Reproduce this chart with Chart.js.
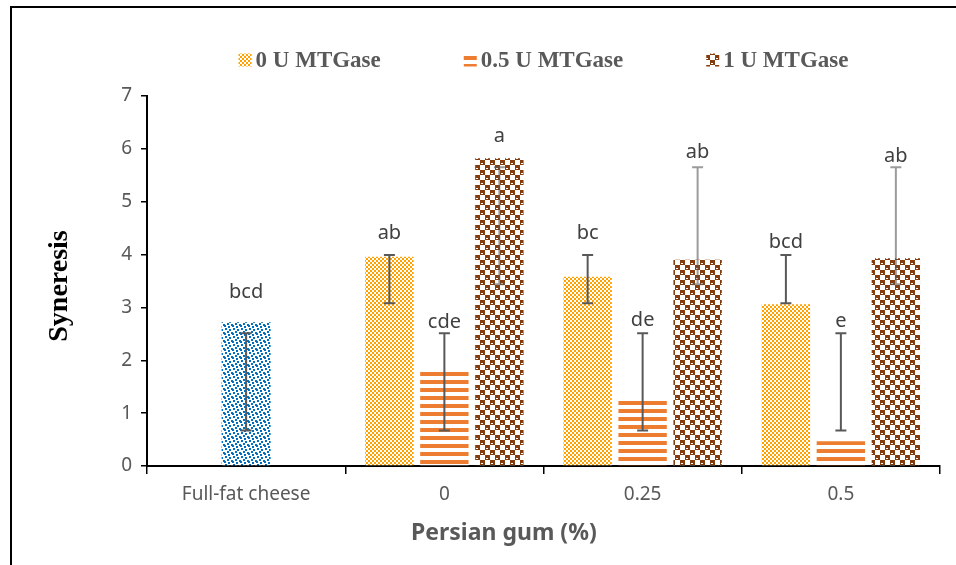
<!DOCTYPE html>
<html>
<head>
<meta charset="utf-8">
<script src="https://cdn.jsdelivr.net/npm/chart.js@4.4.1/dist/chart.umd.min.js"></script>
<style>
  html, body { margin: 0; padding: 0; background: #fff; overflow: hidden; width: 956px; height: 565px; }
  #frame { position: absolute; left: 10px; top: 6px; width: 2000px; height: 2000px; border: 2px solid #000; }
  #c { position: absolute; left: 0; top: 0; }
</style>
</head>
<body>
<div id="frame"></div>
<canvas id="c" width="956" height="565"></canvas>
<script>
// data
var categories = ['Full-fat cheese', '0', '0.25', '0.5'];

var fullFat   = [2.72, null, null, null];
var mtg0      = [null, 3.96, 3.58, 3.06];
var mtg05     = [null, 1.78, 1.23, 0.47];
var mtg1      = [null, 5.82, 3.90, 3.93];

// error bars (low / high ends), as drawn in the original
var fullFatErrLo = [0.67, null, null, null];
var fullFatErrHi = [2.51, null, null, null];
var mtg0ErrLo  = [null, 3.08, 3.08, 3.08];
var mtg0ErrHi  = [null, 3.99, 3.99, 3.99];
var mtg05ErrLo = [null, 0.67, 0.67, 0.67];
var mtg05ErrHi = [null, 2.51, 2.51, 2.51];
var mtg1ErrLo  = [null, 3.44, 3.44, 3.44];
var mtg1ErrHi  = [null, 5.65, 5.65, 5.65];

// significance letters and the height (axis units) they sit at
var fullFatLetters = ['bcd', null, null, null];
var fullFatLetterAt = [3.29, null, null, null];
var mtg0Letters  = [null, 'ab', 'bc', 'bcd'];
var mtg0LetterAt = [null, 4.41, 4.41, 4.24];
var mtg05Letters  = [null, 'cde', 'de', 'e'];
var mtg05LetterAt = [null, 2.72, 2.76, 2.74];
var mtg1Letters  = [null, 'a', 'ab', 'ab'];
var mtg1LetterAt = [null, 6.24, 5.94, 5.85];

var ctx = document.getElementById('c').getContext('2d');

//pattern helper: rows of a tile, 'X' = colour, '.' = white
function makeTile(rows, color) {
    var t = document.createElement('canvas');
    t.width = rows[0].length;
    t.height = rows.length;
    var tc = t.getContext('2d');
    tc.fillStyle = '#ffffff';
    tc.fillRect(0, 0, t.width, t.height);
    tc.fillStyle = color;
    for (var r = 0; r < rows.length; r++) {
        for (var k = 0; k < rows[r].length; k++) {
            if (rows[r][k] === 'X') tc.fillRect(k, r, 1, 1);
        }
    }
    return t;
}
function makePattern(rows, color) {
    return ctx.createPattern(makeTile(rows, color), 'repeat');
}

var bluePat = makePattern([
    '.XX.....',
    '.XX..XX.',
    '.....XX.',
    '...XX...',
    'X..XX..X',
    'XX.....X',
    'XX..XX..',
    '....XX..'
], '#0070C0');

var yellowPat = makePattern([
    'XX..',
    'XX..',
    '..XX',
    '..XX'
], '#FFA200');

var stripeTile = makeTile([
    'X',
    'X',
    'X',
    'X',
    '.',
    '.',
    '.',
    '.'
], '#ED7D31');
var stripePat = ctx.createPattern(stripeTile, 'repeat');

// stripes start at the top of every bar, like the original
function stripeFill(context) {
    var chart = context.chart;
    if (!chart.scales || !chart.scales.y || context.raw === null || context.raw === undefined) return stripePat;
    var top = Math.round(chart.scales.y.getPixelForValue(context.raw));
    var p = ctx.createPattern(stripeTile, 'repeat');
    p.setTransform(new DOMMatrix().translate(0, top));
    return p;
}

var brownPat = makePattern([
    'XXXXX.....',
    'XXXXX.....',
    'XXXXX.....',
    'X..XX.....',
    'XXXXX.....',
    '.....XXXXX',
    '.....XXXXX',
    '.....XXXXX',
    '.....X..XX',
    '.....XXXXX'
], '#843C0C');

const data = {
    labels: categories,
    datasets: [{
        label: 'Full-fat cheese',
        data: fullFat,
        backgroundColor: bluePat,
        errLo: fullFatErrLo, errHi: fullFatErrHi, errColor: '#595959',
        letters: fullFatLetters, letterAt: fullFatLetterAt,
        inLegend: false
    }, {
        label: '0 U MTGase',
        data: mtg0,
        backgroundColor: yellowPat,
        errLo: mtg0ErrLo, errHi: mtg0ErrHi, errColor: '#595959',
        letters: mtg0Letters, letterAt: mtg0LetterAt,
        inLegend: true
    }, {
        label: '0.5 U MTGase',
        data: mtg05,
        backgroundColor: stripeFill,
        legendFill: stripePat,
        errLo: mtg05ErrLo, errHi: mtg05ErrHi, errColor: '#595959',
        letters: mtg05Letters, letterAt: mtg05LetterAt,
        inLegend: true
    }, {
        label: '1 U MTGase',
        data: mtg1,
        backgroundColor: brownPat,
        errLo: mtg1ErrLo, errHi: mtg1ErrHi, errColor: 'rgba(89,89,89,0.6)',
        letters: mtg1Letters, letterAt: mtg1LetterAt,
        inLegend: true
    }]
};

// error bars + letters on top of the bars
const extras = {
    id: 'extras',
    afterDatasetsDraw(chart) {
        var c = chart.ctx, y = chart.scales.y;
        chart.data.datasets.forEach(function(ds, di) {
            var meta = chart.getDatasetMeta(di);
            meta.data.forEach(function(bar, i) {
                if (ds.data[i] === null) return;
                var x = bar.x;
                if (ds.errLo[i] !== null) {
                    var y1 = y.getPixelForValue(ds.errLo[i]);
                    var y2 = y.getPixelForValue(ds.errHi[i]);
                    c.save();
                    c.strokeStyle = ds.errColor;
                    c.lineWidth = 2;
                    c.beginPath();
                    c.moveTo(x, y1); c.lineTo(x, y2);
                    c.moveTo(x - 5.5, y1); c.lineTo(x + 5.5, y1);
                    c.moveTo(x - 5.5, y2); c.lineTo(x + 5.5, y2);
                    c.stroke();
                    c.restore();
                }
                if (ds.letters[i]) {
                    c.save();
                    c.fillStyle = '#404040';
                    c.font = '20px "Noto Sans"';
                    c.textAlign = 'center';
                    c.textBaseline = 'middle';
                    c.fillText(ds.letters[i], x, y.getPixelForValue(ds.letterAt[i]));
                    c.restore();
                }
            });
        });
    },
    afterDraw(chart) {
        var c = chart.ctx, a = chart.chartArea;
        c.save();
        // legend
        c.font = 'bold 23px "Liberation Serif"';
        c.textBaseline = 'middle';
        c.textAlign = 'left';
        var items = chart.data.datasets.filter(function(d) { return d.inLegend; });
        var box = 13, gapBox = 4, gapItem = 83;
        var total = 0;
        items.forEach(function(d, k) {
            total += box + gapBox + c.measureText(d.label).width;
            if (k > 0) total += gapItem;
        });
        var lx = (a.left + a.right) / 2 - total / 2;
        var ly = 60;
        items.forEach(function(d) {
            c.fillStyle = d.legendFill || d.backgroundColor;
            c.fillRect(lx, ly - box / 2, box, box);
            c.fillStyle = '#595959';
            c.fillText(d.label, lx + box + gapBox, ly + 1);
            lx += box + gapBox + c.measureText(d.label).width + gapItem;
        });
        // axis titles
        c.fillStyle = '#595959';
        c.font = 'bold 23px "Noto Sans"';
        c.textAlign = 'center';
        c.fillText('Persian gum (%)', a.left + (a.right - a.left) * 0.45, 533);
        c.translate(60, (a.top + a.bottom) / 2 + 5);
        c.rotate(-Math.PI / 2);
        c.fillStyle = '#000';
        c.font = 'bold 28px "Liberation Serif"';
        c.fillText('Syneresis', 0, 0);
        c.restore();
    }
};

var myChart = new Chart(ctx, {
    type: 'bar',
    data: data,
    plugins: [extras],
    options: {
        responsive: false,
        animation: false,
        skipNull: true,
        categoryPercentage: 0.832,
        barPercentage: 0.88,
        maxBarThickness: 49,
        layout: { padding: { top: 96, right: 16, left: 0, bottom: 0 } },
        plugins: {
            legend: { display: false },
            tooltip: { enabled: false }
        },
        scales: {
            x: {
                grid: { offset: true, drawOnChartArea: false, color: '#000', tickLength: 8, lineWidth: 1.5 },
                border: { color: '#000', width: 2 },
                ticks: {
                    color: '#595959',
                    font: { family: 'Noto Sans', size: 19 },
                    padding: 9
                },
                afterFit: function(s) { s.height = 99; }
            },
            y: {
                min: 0,
                max: 7,
                grid: { drawOnChartArea: false, color: '#000', tickLength: 6, lineWidth: 1.5 },
                border: { color: '#000', width: 2 },
                ticks: {
                    stepSize: 1,
                    color: '#595959',
                    font: { family: 'Noto Sans', size: 19 },
                    padding: 9
                },
                afterFit: function(s) { s.width = 147; }
            }
        }
    }
});
</script>
</body>
</html>
